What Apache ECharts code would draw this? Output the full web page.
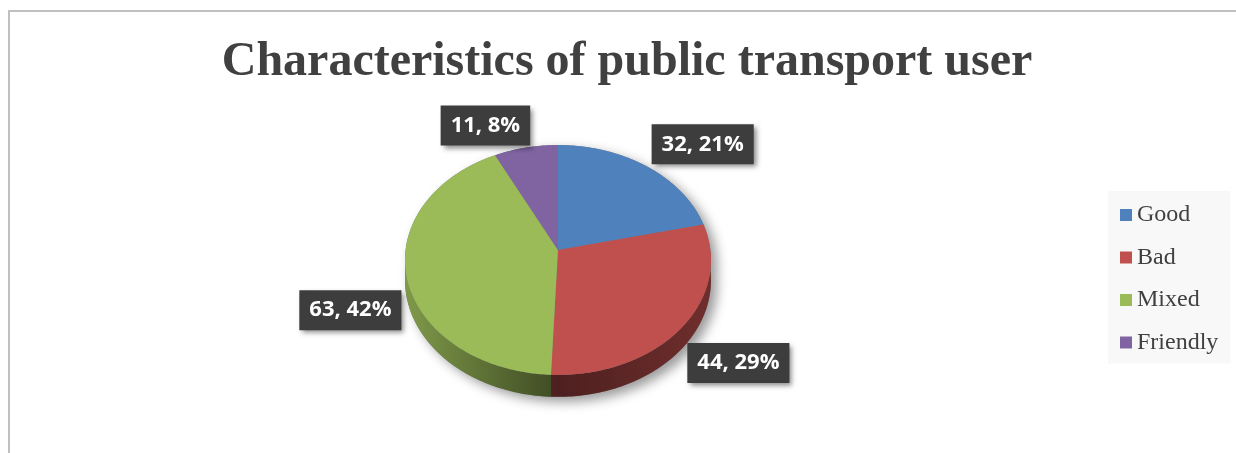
<!DOCTYPE html>
<html>
<head>
<meta charset="utf-8">
<script src="https://cdn.jsdelivr.net/npm/echarts@6/dist/echarts.min.js"></script>
<style>
  html, body { margin: 0; padding: 0; background: #ffffff; }
  #chart { width: 1236px; height: 453px; }
</style>
</head>
<body>
<div id="chart"></div>
<script>
// Survey answers: how public transport users are characterised
const titleText = 'Characteristics of public transport user';
const categories = ['Good', 'Bad', 'Mixed', 'Friendly'];
const counts = [32, 44, 63, 11];
const percentLabels = ['21%', '29%', '42%', '8%'];
const colors = ['#4f81bd', '#c0504d', '#9bbb59', '#8064a2'];

// Tilted-disc geometry (perspective projection of a flat round pie)
const PIE = { cx: 558, apexY: 250, ax: 152.4, by: 114.1, persp: 0.087, depth: 20 };
const total = counts.reduce((a, b) => a + b, 0);
const starts = counts.map((_, i) => counts.slice(0, i).reduce((a, b) => a + b, 0));

function rim(t) {
  const u = Math.sin(t), v = Math.cos(t), w = 1 + PIE.persp * v;
  return { x: PIE.cx + PIE.ax * u / w, y: PIE.apexY - PIE.by * v / w, w: w, u: u, v: v };
}
function arcPoints(a, b, drop) {
  const n = Math.max(2, Math.ceil((b - a) / (Math.PI / 180)));
  const pts = [];
  for (let k = 0; k <= n; k++) {
    const p = rim(a + (b - a) * k / n);
    pts.push([p.x, p.y + (drop ? PIE.depth / p.w : 0)]);
  }
  return pts;
}
function shade(hex, f) {
  const n = parseInt(hex.slice(1), 16);
  const r = Math.round(((n >> 16) & 255) * f), g = Math.round(((n >> 8) & 255) * f), b = Math.round((n & 255) * f);
  return 'rgb(' + r + ',' + g + ',' + b + ')';
}

function sliceRenderer(idx) {
  return function (params, api) {
    const s = api.value(0), c = api.value(1);
    const t0 = s / total * Math.PI * 2, t1 = (s + c) / total * Math.PI * 2;
    const children = [];
    const color = colors[idx];

    // outer wall on the near half of the disc
    const a = Math.max(t0, Math.PI / 2), b = Math.min(t1, Math.PI * 3 / 2);
    if (b > a) {
      const top = arcPoints(a, b, false);
      const bottom = arcPoints(a, b, true).reverse();
      children.push({
        type: 'polygon', z2: 1,
        shape: { points: top.concat(bottom) },
        style: {
          fill: new echarts.graphic.LinearGradient(PIE.cx - PIE.ax, 0, PIE.cx + PIE.ax, 0, [
            { offset: 0, color: shade(color, 0.82) },
            { offset: 0.5, color: shade(color, 0.40) },
            { offset: 1, color: shade(color, 0.58) }
          ], true)
        }
      });
    }

    // top face
    const face = [[PIE.cx, PIE.apexY]].concat(arcPoints(t0, t1, false));
    children.push({
      type: 'polygon', z2: 5,
      shape: { points: face },
      style: { fill: color }
    });

    // data label box, placed just outside the middle of the slice
    const m = rim((t0 + t1) / 2);
    const dx = m.u >= 0 ? 5 : -5 + 12 * (1 - Math.abs(m.u));
    children.push({
      type: 'text', z2: 20,
      x: m.x + dx,
      y: m.y + (m.v >= 0 ? -2 : 16),
      style: {
        text: c + ', ' + percentLabels[idx],
        fill: '#ffffff',
        font: 'bold 22px "Open Sans", sans-serif',
        align: m.u >= 0 ? 'left' : 'right',
        verticalAlign: m.v >= 0 ? 'bottom' : 'top',
        lineHeight: 26,
        backgroundColor: '#3d3d3d',
        padding: [7, 10, 7, 10],
        shadowBlur: 5,
        shadowOffsetX: 3,
        shadowOffsetY: 3,
        shadowColor: 'rgba(0,0,0,0.45)'
      }
    });
    return { type: 'group', children: children };
  };
}

// soft drop shadow under the whole disc
function baseRenderer() {
  const tr = Math.acos(-PIE.persp), tl = Math.PI * 2 - tr;
  const pts = arcPoints(tr, tl, true).concat(arcPoints(tl, Math.PI * 2 + tr, false));
  return {
    type: 'polygon', z2: 0,
    shape: { points: pts },
    style: {
      fill: '#7a7a7a',
      shadowBlur: 12, shadowOffsetX: 6, shadowOffsetY: 5,
      shadowColor: 'rgba(0,0,0,0.4)'
    }
  };
}

const series = [{
  type: 'custom', name: 'base', coordinateSystem: 'none', silent: true,
  data: [[total]], renderItem: baseRenderer
}].concat(categories.map((name, i) => ({
  type: 'custom', name: name, coordinateSystem: 'none',
  itemStyle: { color: colors[i] },
  data: [[starts[i], counts[i]]],
  renderItem: sliceRenderer(i)
})));

const chart = echarts.init(document.getElementById('chart'), null, { renderer: 'canvas' });
chart.setOption({
  animation: false,
  backgroundColor: '#ffffff',
  graphic: [
    {
      type: 'rect', silent: true, z: -10,
      shape: { x: 9, y: 11, width: 1400, height: 600 },
      style: { fill: 'none', stroke: '#c0c0c0', lineWidth: 2 }
    },
    {
      type: 'text', silent: true,
      x: 627, y: 63,
      style: {
        text: titleText,
        font: 'bold 48px "Liberation Serif", "Times New Roman", serif',
        fill: '#404040',
        align: 'center',
        verticalAlign: 'middle'
      }
    }
  ],
  legend: {
    data: categories,
    orient: 'vertical',
    left: 1108, top: 191,
    icon: 'rect',
    itemWidth: 12, itemHeight: 12, itemGap: 18.5,
    padding: [12, 12, 9, 12],
    backgroundColor: '#f8f8f8',
    selectedMode: false,
    textStyle: { fontFamily: '"Liberation Serif", "Times New Roman", serif', fontSize: 24, lineHeight: 24, color: '#404040' }
  },
  series: series
});
</script>
</body>
</html>
